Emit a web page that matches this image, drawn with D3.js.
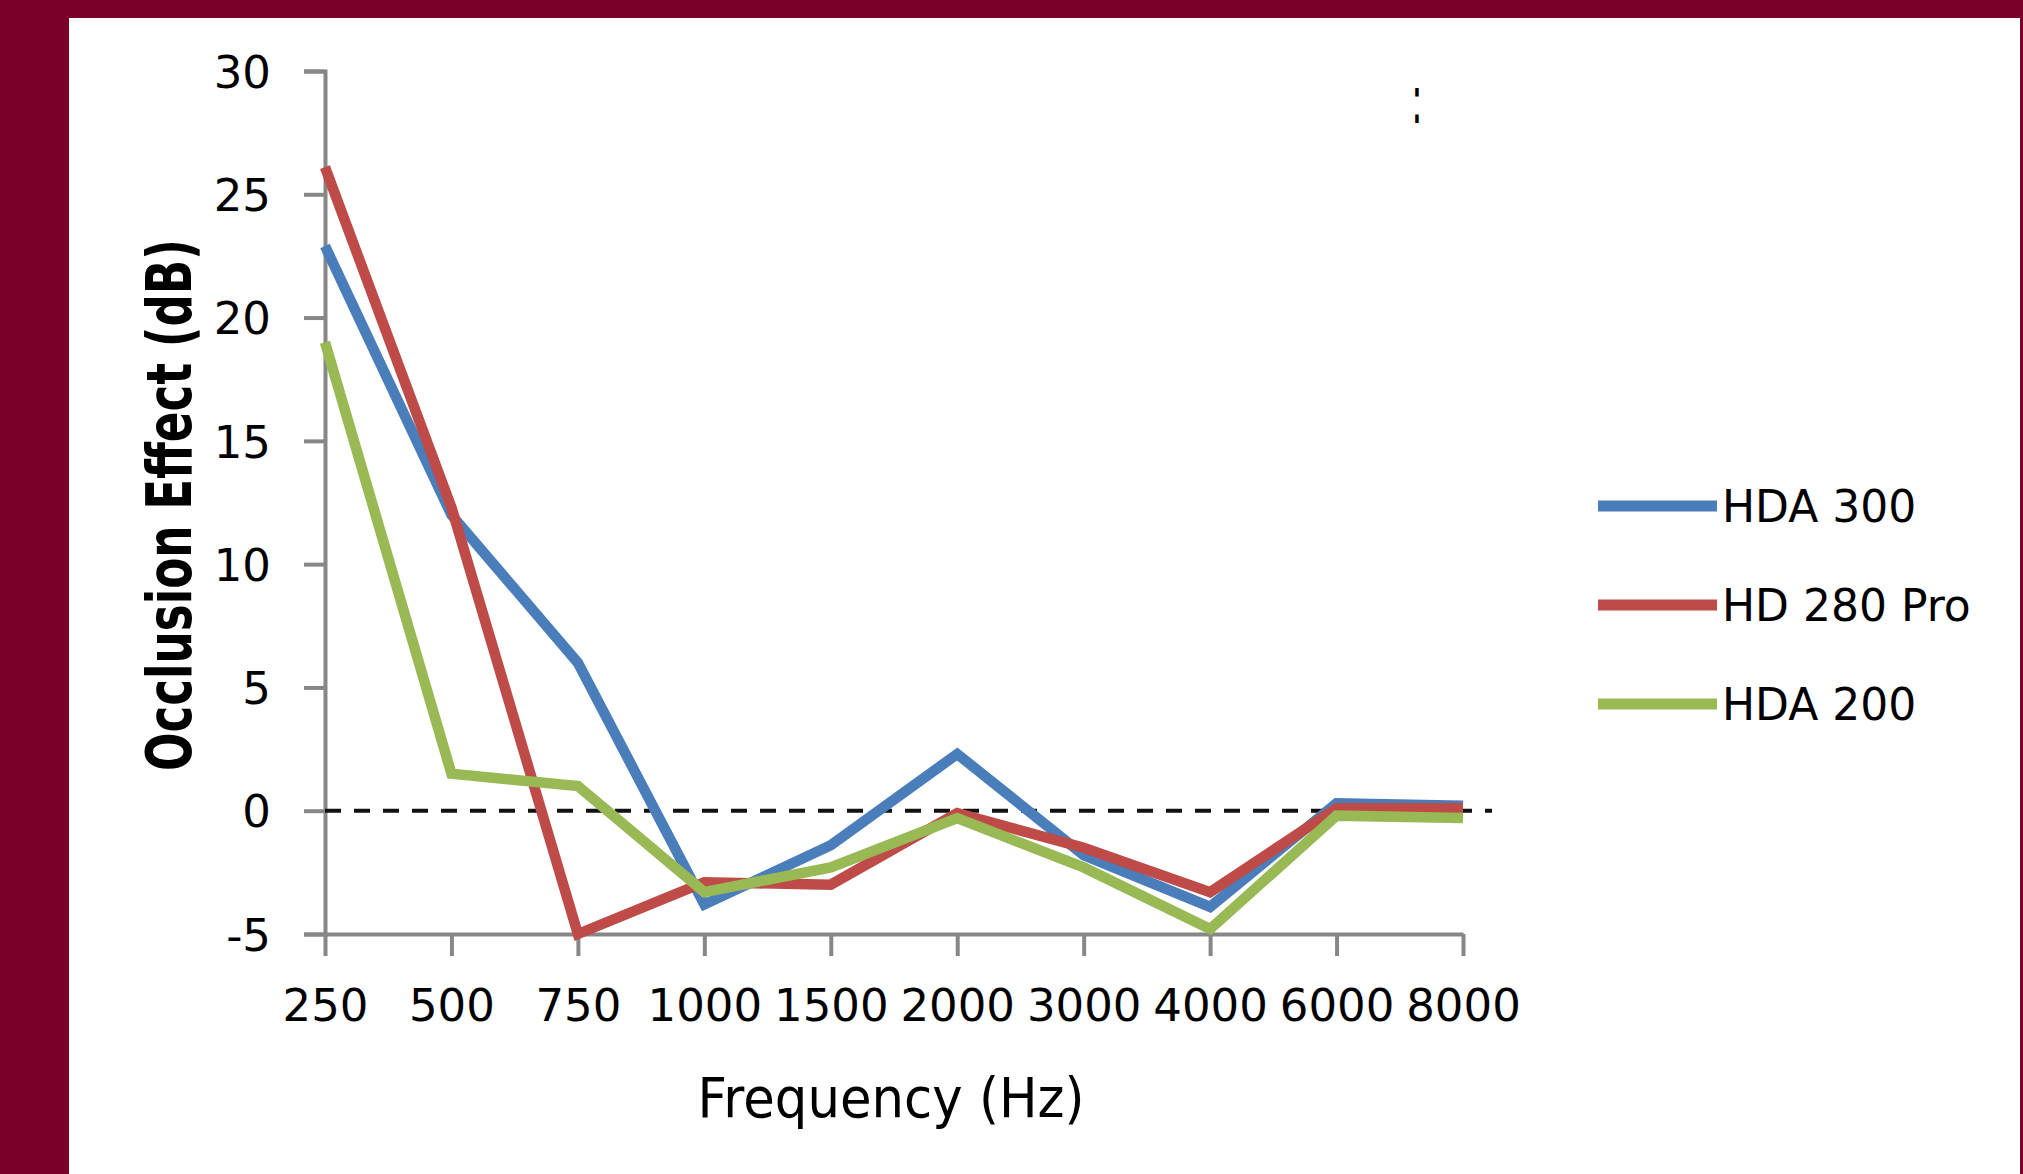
<!DOCTYPE html>
<html>
<head>
<meta charset="utf-8">
<script src="https://cdn.jsdelivr.net/npm/d3@7"></script>
<style>
    body { margin: 0; background: #7b0029; }
    svg { display: block; }
</style>
</head>
<body>
<svg id="svg1" width="2023" height="1174"></svg>
<script>

// data
const frequencies = ['250', '500', '750', '1000', '1500', '2000', '3000', '4000', '6000', '8000'];
const seriesNames = ['HDA 300', 'HD 280 Pro', 'HDA 200'];
const hda300 = [22.9, 12.0, 6.0, -3.8, -1.4, 2.3, -1.8, -3.9, 0.3, 0.2];
const hd280pro = [26.1, 12.3, -5.0, -2.9, -3.0, -0.1, -1.5, -3.3, 0.1, 0.1];
const hda200 = [19.0, 1.5, 1.0, -3.3, -2.3, -0.3, -2.3, -4.8, -0.2, -0.3];
const yTicks = [-5, 0, 5, 10, 15, 20, 25, 30];

const colors = ['#4a7ebb', '#be4b48', '#98b954'];
const series = [hda300, hd280pro, hda200];

const svg1 = d3.select('#svg1');
const width = +svg1.attr('width');
const height = +svg1.attr('height');

// maroon frame with white panel
svg1.append('rect')
    .attr('width', width)
    .attr('height', height)
    .attr('fill', '#7b0029');
svg1.append('rect')
    .attr('x', 69)
    .attr('y', 18)
    .attr('width', 2020 - 69)
    .attr('height', height - 18)
    .attr('fill', '#ffffff');

const plot = { left: 325, right: 1463, top: 71, bottom: 934 };

const x = d3.scalePoint()
    .domain(frequencies)
    .range([plot.left, plot.right]);

const y = d3.scaleLinear()
    .domain([-5, 30])
    .range([plot.bottom, plot.top]);

const font = 'DejaVu Sans, Verdana, sans-serif';
const axisColor = '#878787';

// y axis
const yAxis = svg1.append('g')
    .attr('transform', `translate(${plot.left},0)`)
    .call(d3.axisLeft(y).tickValues(yTicks).tickFormat(d => String(d)).tickSize(21).tickPadding(33));
yAxis.select('.domain').attr('stroke', axisColor).attr('stroke-width', 4);
yAxis.selectAll('.tick line').attr('stroke', axisColor).attr('stroke-width', 4);
yAxis.selectAll('.tick text')
    .attr('font-family', font)
    .attr('font-size', 45)
    .attr('fill', '#000')
    .attr('dy', '0.36em');

// x axis
const xAxis = svg1.append('g')
    .attr('transform', `translate(0,${plot.bottom})`)
    .call(d3.axisBottom(x).tickSize(22).tickSizeOuter(0).tickPadding(0));
xAxis.select('.domain').attr('stroke', axisColor).attr('stroke-width', 4);
xAxis.selectAll('.tick line').attr('stroke', axisColor).attr('stroke-width', 4);
xAxis.selectAll('.tick text')
    .attr('font-family', font)
    .attr('font-size', 45)
    .attr('fill', '#000')
    .attr('y', 87)
    .attr('dy', 0);

// dashed zero line
svg1.append('line')
    .attr('x1', plot.left)
    .attr('x2', 1492)
    .attr('y1', y(0))
    .attr('y2', y(0))
    .attr('stroke', '#111')
    .attr('stroke-width', 4)
    .attr('stroke-dasharray', '16,13');

// series lines
const line = d3.line()
    .x((d, i) => x(frequencies[i]))
    .y(d => y(d));

series.forEach((values, i) => {
    svg1.append('path')
        .datum(values)
        .attr('d', line)
        .attr('fill', 'none')
        .attr('stroke', colors[i])
        .attr('stroke-width', 10.5)
        .attr('stroke-linejoin', 'miter');
});

// legend
const legend = svg1.append('g')
    .attr('transform', 'translate(1598,506)');

seriesNames.forEach((name, i) => {
    const row = legend.append('g')
        .attr('transform', `translate(0,${i * 99})`);
    row.append('line')
        .attr('x1', 0)
        .attr('x2', 119)
        .attr('stroke', colors[i])
        .attr('stroke-width', 11);
    row.append('text')
        .attr('x', 124)
        .attr('dy', '0.36em')
        .attr('font-family', font)
        .attr('font-size', 44)
        .attr('fill', '#000')
        .text(name);
});

// axis titles
svg1.append('text')
    .attr('transform', 'translate(191,505) rotate(-90)')
    .attr('text-anchor', 'middle')
    .attr('font-family', font)
    .attr('font-weight', 'bold')
    .attr('font-size', 63)
    .attr('textLength', 532)
    .attr('lengthAdjust', 'spacingAndGlyphs')
    .attr('fill', '#000')
    .text('Occlusion Effect (dB)');

svg1.append('text')
    .attr('x', 891)
    .attr('y', 1117)
    .attr('text-anchor', 'middle')
    .attr('font-family', font)
    .attr('font-size', 56)
    .attr('textLength', 387)
    .attr('lengthAdjust', 'spacingAndGlyphs')
    .attr('fill', '#000')
    .text('Frequency (Hz)');

// stray colon near the top of the plot
svg1.append('text')
    .attr('transform', 'translate(1417,123) scale(1.2,2.4)')
    .attr('text-anchor', 'middle')
    .attr('font-family', font)
    .attr('font-size', 28)
    .attr('fill', '#000')
    .text(':');

</script>
</body>
</html>
